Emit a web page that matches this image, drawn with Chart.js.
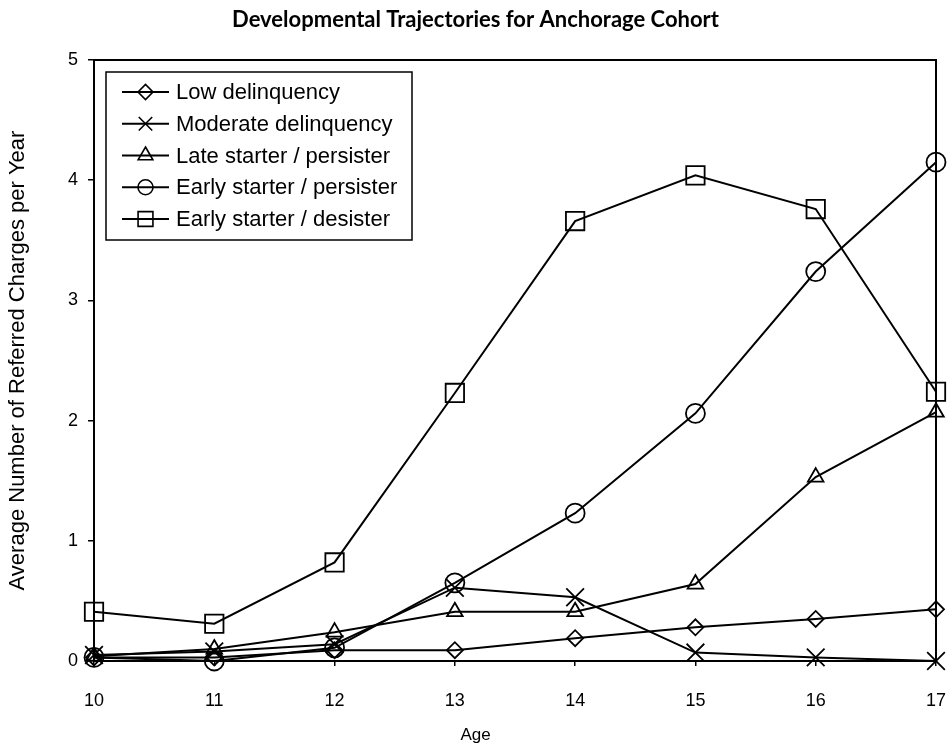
<!DOCTYPE html>
<html>
<head>
<meta charset="utf-8">
<script src="https://cdn.jsdelivr.net/npm/chart.js@4/dist/chart.umd.min.js"></script>
<style>
  html, body { margin: 0; padding: 0; background: #fff; }
  #wrap { width: 951px; height: 746px; }
</style>
</head>
<body>
<div id="wrap"><canvas id="c" width="951" height="746"></canvas></div>
<script>
// ---- data ----
const ages = [10, 11, 12, 13, 14, 15, 16, 17];
const lowDelinquency      = [0.03, 0.03, 0.09, 0.09, 0.19, 0.28, 0.35, 0.43];
const moderateDelinquency = [0.05, 0.08, 0.14, 0.61, 0.53, 0.07, 0.03, 0.00];
const lateStarterPersister  = [0.04, 0.10, 0.24, 0.41, 0.41, 0.64, 1.53, 2.07];
const earlyStarterPersister = [0.03, 0.00, 0.11, 0.65, 1.23, 2.06, 3.24, 4.15];
const earlyStarterDesister  = [0.41, 0.31, 0.82, 2.23, 3.66, 4.04, 3.76, 2.24];
const seriesNames = ['Low delinquency', 'Moderate delinquency', 'Late starter / persister',
                     'Early starter / persister', 'Early starter / desister'];
const yTicks = [0, 1, 2, 3, 4, 5];

const styles = [
  { pointStyle: 'rectRot',  radius: 8,    legendRadius: 7.5 },
  { pointStyle: 'crossRot', radius: 12.5, legendRadius: 9.5 },
  { pointStyle: 'triangle', radius: 9,    legendRadius: 8.5 },
  { pointStyle: 'circle',   radius: 9.5,  legendRadius: 7.5 },
  { pointStyle: 'rect',     radius: 13,   legendRadius: 10.5 }
];
const allSeries = [lowDelinquency, moderateDelinquency, lateStarterPersister, earlyStarterPersister, earlyStarterDesister];

const datasets = allSeries.map((vals, i) => ({
  label: seriesNames[i],
  data: ages.map((a, j) => ({ x: a, y: vals[j] })),
  borderColor: '#000',
  borderWidth: 2,
  backgroundColor: 'rgba(0,0,0,0)',
  pointStyle: styles[i].pointStyle,
  pointRadius: styles[i].radius,
  pointHoverRadius: styles[i].radius,
  pointBorderColor: '#000',
  pointBackgroundColor: 'rgba(0,0,0,0)',
  pointBorderWidth: 1.8,
  tension: 0,
  clip: false
}));

const framePlugin = {
  id: 'frame',
  afterDraw(chart) {
    const { ctx, chartArea: a } = chart;
    ctx.save();
    ctx.strokeStyle = '#000';
    ctx.lineWidth = 2;
    ctx.beginPath();
    ctx.moveTo(a.left, a.top);
    ctx.lineTo(a.right, a.top);
    ctx.lineTo(a.right, a.bottom);
    ctx.stroke();
    ctx.restore();
  }
};

const legendPlugin = {
  id: 'boxLegend',
  afterDraw(chart) {
    const { ctx, chartArea: a } = chart;
    const bx = a.left + 12, by = a.top + 12, bw = 306, bh = 168;
    ctx.save();
    ctx.fillStyle = '#fff';
    ctx.fillRect(bx, by, bw, bh);
    ctx.strokeStyle = '#000';
    ctx.lineWidth = 1.5;
    ctx.strokeRect(bx, by, bw, bh);
    const step = 31.75;
    chart.data.datasets.forEach((ds, i) => {
      const cy = by + 20 + i * step;
      const x0 = bx + 16, x1 = bx + 63;
      ctx.strokeStyle = '#000';
      ctx.lineWidth = 2;
      ctx.beginPath();
      ctx.moveTo(x0, cy);
      ctx.lineTo(x1, cy);
      ctx.stroke();
      ctx.fillStyle = 'rgba(0,0,0,0)';
      ctx.lineWidth = 1.6;
      Chart.helpers.drawPoint(ctx, {
        pointStyle: styles[i].pointStyle,
        radius: styles[i].legendRadius,
        rotation: 0,
        borderWidth: 1.6
      }, (x0 + x1) / 2, cy);
      ctx.fillStyle = '#000';
      ctx.font = '22px "Liberation Sans", Arial, sans-serif';
      ctx.textAlign = 'left';
      ctx.textBaseline = 'middle';
      ctx.fillText(ds.label, x1 + 7, cy + 1);
    });
    ctx.restore();
  }
};

new Chart(document.getElementById('c'), {
  type: 'line',
  data: { datasets },
  plugins: [framePlugin, legendPlugin],
  options: {
    responsive: false,
    animation: false,
    devicePixelRatio: 1,
    layout: { padding: 0 },
    plugins: {
      legend: { display: false },
      tooltip: { enabled: false },
      title: {
        display: true,
        text: 'Developmental Trajectories for Anchorage Cohort',
        color: '#000',
        font: { family: 'Lato', size: 22, weight: 'bold', lineHeight: 1.2 },
        padding: { top: 7, bottom: 26.6 }
      },
      subtitle: {
        display: true,
        position: 'bottom',
        text: 'Age',
        color: '#000',
        font: { family: 'Liberation Sans', size: 17, lineHeight: 1.2 },
        padding: { top: 0, bottom: 0.8 }
      }
    },
    scales: {
      x: {
        type: 'linear',
        min: 10, max: 17,
        afterFit(s) { s.height = 63.8; s.paddingLeft = 0; s.paddingRight = 15; },
        border: { display: true, color: '#000', width: 2 },
        grid: { display: true, drawOnChartArea: false, drawTicks: true, tickLength: 5, color: '#000', lineWidth: 1.5 },
        ticks: {
          stepSize: 1, color: '#000', padding: 24, maxRotation: 0,
          font: { family: 'Liberation Sans', size: 18 },
          callback: v => String(v)
        }
      },
      y: {
        type: 'linear',
        min: 0, max: 5,
        afterFit(s) { s.width = 94; s.paddingTop = 0; s.paddingBottom = 0; },
        afterBuildTicks(s) { s.ticks = yTicks.map(v => ({ value: v })); },
        border: { display: true, color: '#000', width: 2 },
        grid: { display: true, drawOnChartArea: false, drawTicks: true, tickLength: 6, color: '#000', lineWidth: 1.5 },
        ticks: {
          color: '#000', padding: 10,
          font: { family: 'Liberation Sans', size: 18 },
          callback: v => String(v)
        },
        title: {
          display: true, text: 'Average Number of Referred Charges per Year', color: '#000',
          font: { family: 'Liberation Sans', size: 22 },
          padding: { top: 5, bottom: 0 }
        }
      }
    }
  }
});
</script>
</body>
</html>
